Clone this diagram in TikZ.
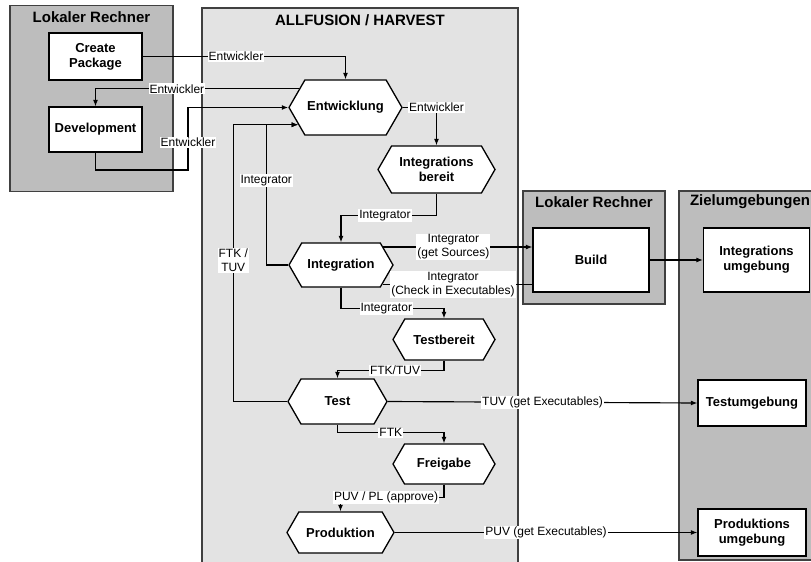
\documentclass[tikz,border=0pt]{standalone}
\usepackage{fontspec}
\setmainfont{Liberation Sans}
\usetikzlibrary{shapes.symbols,arrows.meta}
\begin{document}
\begin{tikzpicture}[x=1pt, y=-1pt, line width=1.15pt,
    >={Latex[length=6.5pt,width=5pt]},
    grp/.style={draw=black!75, fill=black!26, line width=1.2pt, inner sep=0pt},
    grplight/.style={grp, fill=black!11},
    grptitle/.style={font=\fontsize{15}{17}\selectfont\bfseries},
    umg/.style={draw, fill=white, line width=1.3pt, inner sep=1pt, align=center,
      font=\fontsize{13}{15}\selectfont\bfseries},
    zust/.style={signal, signal to=east and west, signal pointer angle=120,
      draw, fill=white, line width=1.3pt, inner sep=1pt, align=center,
      font=\fontsize{13}{15}\selectfont\bfseries},
    lbl/.style={fill=white, inner sep=1pt, align=center,
      font=\fontsize{12}{14}\selectfont}]
    \useasboundingbox (0,0) rectangle (811,562);
    % Gruppen
    \node (lrA) at (91.5,98.5) [grp, minimum width=163pt, minimum height=186pt] {};
    \node (af) at (360,290) [grplight, minimum width=316pt, minimum height=564pt] {};
    \node (lrB) at (594,247.5) [grp, minimum width=142pt, minimum height=113pt] {};
    \node (zu) at (754.5,375.5) [grp, minimum width=151pt, minimum height=369pt] {};
    \node (lrAt) at (91.5,17) [grptitle] {Lokaler Rechner};
    \node (aft) at (360,20) [grptitle] {ALLFUSION / HARVEST};
    \node (lrBt) at (594,202) [grptitle] {Lokaler Rechner};
    \node (zut) at (750,202) [grptitle] {Zielumgebungen};
    % Knoten
    \node (cp) at (95.5,56.5) [umg, minimum width=93pt, minimum height=47pt] {Create\\Package};
    \node (dev) at (95.5,129.5) [umg, minimum width=93pt, minimum height=45pt] {Development};
    \node (ent) at (345.5,107.5) [zust, minimum width=113pt, minimum height=55pt] {Entwicklung};
    \node (ib) at (436.5,169.5) [zust, minimum width=117pt, minimum height=47pt] {Integrations\\bereit};
    \node (intg) at (341,265) [zust, minimum width=104pt, minimum height=44pt] {Integration};
    \node (tb) at (444,339.5) [zust, minimum width=102pt, minimum height=41pt] {Testbereit};
    \node (test) at (337.5,401.5) [zust, minimum width=99pt, minimum height=45pt] {Test};
    \node (fg) at (444,464) [zust, minimum width=102pt, minimum height=40pt] {Freigabe};
    \node (prod) at (340.5,532.5) [zust, minimum width=107pt, minimum height=41pt] {Produktion};
    \node (build) at (591,260) [umg, minimum width=116pt, minimum height=64pt] {Build};
    \node (iu) at (756.5,260) [umg, minimum width=106pt, minimum height=64pt] {Integrations\\umgebung};
    \node (tu) at (752,403) [umg, minimum width=108pt, minimum height=46pt] {Testumgebung};
    \node (pu) at (752,532.5) [umg, minimum width=108pt, minimum height=47pt] {Produktions\\umgebung};
    % Verbindungen
    \draw[->] (cp.east) -| node[lbl, pos=0.23] {Entwickler} (ent.north);
    \draw[->] (ent.158) -| node[lbl, pos=0.3] {Entwickler} (dev.north);
    \draw[->] (dev.south) |- (188,170) |- node[lbl, pos=0.22] {Entwickler} (ent.west);
    \draw[->] (intg.west) -- ++(-22,0) |- node[lbl, pos=0.3] {Integrator} (ent.200);
    \draw[->] (test.west) -- ++(-54,0) |- node[lbl, pos=0.255] {FTK /\\TUV} (ent.200);
    \draw[->] (ent.east) -| node[lbl, pos=0.5] {Entwickler} (ib.north);
    \draw[->] (ib.south) -- ++(0,22) -| node[lbl, pos=0.27] {Integrator} (intg.north);
    \draw[->] (intg.23) -- node[lbl, pos=0.47] {Integrator\\(get Sources)} (intg.23 -| build.west);
    \draw (build.west |- intg.335) -- node[lbl, pos=0.53] {Integrator\\(Check in Executables)} (intg.335);
    \draw[->] (build.east) -- (iu.west);
    \draw[->] (intg.south) -- ++(0,21) -| node[lbl, pos=0.22] {Integrator} (tb.north);
    \draw[->] (tb.south) -- ++(0,10) -| node[lbl, pos=0.23] {FTK/TUV} (test.north);
    \draw[->] (test.east) -- node[lbl] {TUV (get Executables)} (tu.west);
    \draw[->] (test.south) -- ++(0,8) -| node[lbl, pos=0.25] {FTK} (fg.north);
    \draw[->] (fg.south) -- ++(0,13) -| node[lbl, pos=0.28] {PUV / PL (approve)} (prod.north);
    \draw[->] (prod.east) -- node[lbl] {PUV (get Executables)} (pu.west);
\end{tikzpicture}
\end{document}
